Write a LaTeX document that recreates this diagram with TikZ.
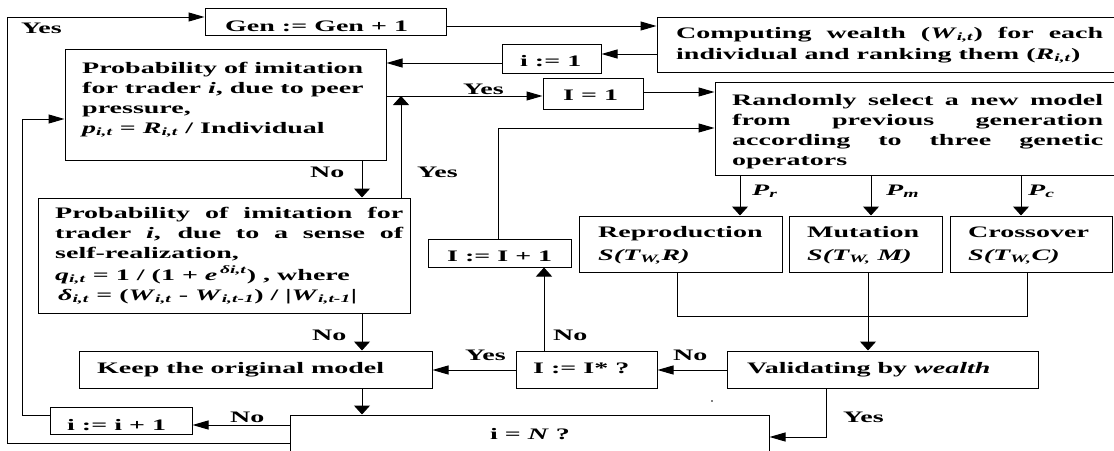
\documentclass[tikz,border=0pt]{standalone}
\usepackage{fontspec}
\setmainfont{Liberation Serif}[FakeStretch=1.75]
\usetikzlibrary{arrows.meta,fit}
\newcommand\sbi[1]{\textsubscript{\textit{#1}}}
\tikzset{
  box/.style={draw, line width=1pt, inner sep=0pt},
  txt/.style={inner sep=0pt, anchor=base west},
  conn/.style={line width=1pt},
  harr/.style={conn, -{Triangle[length=16pt,width=9pt]}},
  varr/.style={conn, -{Triangle[length=9pt,width=16pt]}},
}
\begin{document}
\begin{tikzpicture}[x=1pt,y=-1pt,font=\fontsize{16}{20}\selectfont\bfseries]
\useasboundingbox (0,0) rectangle (1114,450);
\clip (0,0) rectangle (1114,450);
% boxes
\node[box, fit={(205,8) (446,35)}] (gen) {};
\node[box, fit={(657,17) (1117,72)}] (comp) {};
\node[box, fit={(502,44) (601,73)}] (ione) {};
\node[box, fit={(65,49) (386,160)}] (prob1) {};
\node[box, fit={(543,78) (643,109)}] (Ieq) {};
\node[box, fit={(715,82) (1117,175)}] (rand) {};
\node[box, fit={(38,198) (410,313)}] (prob2) {};
\node[box, fit={(428,239) (571,267)}] (Iinc) {};
\node[box, fit={(579,216) (782,272)}] (repr) {};
\node[box, fit={(789,216) (942,272)}] (mut) {};
\node[box, fit={(950,216) (1112,272)}] (cross) {};
\node[box, fit={(79,351) (432,388)}] (keep) {};
\node[box, fit={(516,351) (657,388)}] (Istar) {};
\node[box, fit={(727,351) (1038,388)}] (valid) {};
\node[box, fit={(50,407) (192,434)}] (iinc) {};
\node[box, fit={(290,415) (769,472)}] (iN) {};
% texts
\node[txt] (gent) at (225,31) {Gen := Gen + 1};
\node[txt] (compt) at (676,38) {\parbox[t]{427pt}{\makebox[427pt][s]{Computing wealth (\textit{W}\sbi{i,t}) for each}\\[1pt]individual and ranking them (\textit{R}\sbi{i,t})}};
\node[txt] (ionet) at (520,66) {i := 1};
\node[txt] (prob1t) at (82,73) {\parbox[t]{300pt}{Probability of imitation\\for trader \textit{i}, due to peer\\pressure,\\\textit{p}\sbi{i,t} = \textit{R}\sbi{i,t} / Individual}};
\node[txt] (Ieqt) at (563,100) {I = 1};
\node[txt] (randt) at (732,105) {\parbox[t]{371pt}{\makebox[371pt][s]{Randomly select a new model}\\\makebox[371pt][s]{from previous generation}\\\makebox[371pt][s]{according to three genetic}\\operators}};
\node[txt] (prob2t) at (55,218) {\parbox[t]{348pt}{\makebox[348pt][s]{Probability of imitation for}\\\makebox[348pt][s]{trader \textit{i}, due to a sense of}\\self-realization,\\[2pt]\textit{q}\sbi{i,t} = 1 / (1 + \textit{e}\,\textsuperscript{\textit{δi,t}}) , where\\\hspace*{3pt}\textit{δ}\sbi{i,t} = (\textit{W}\sbi{i,t} - \textit{W}\sbi{i,t-1}) / |\textit{W}\sbi{i,t-1}|}};
\node[txt] (Iinct) at (447,261) {I := I + 1};
\node[txt] (reprt) at (598,237) {\parbox[t]{180pt}{Reproduction\\[3pt]\textit{S(T\textsubscript{W,}R)}}};
\node[txt] (mutt) at (807,237) {\parbox[t]{130pt}{Mutation\\[3pt]\textit{S(T\textsubscript{W,} M)}}};
\node[txt] (crosst) at (968,237) {\parbox[t]{140pt}{Crossover\\[3pt]\textit{S(T\textsubscript{W,}C)}}};
\node[txt] (keept) at (97,373) {Keep the original model};
\node[txt] (Istart) at (533,373) {I := I* ?};
\node[txt] (validt) at (747,373) {Validating by \textit{wealth}};
\node[txt] (iinct) at (67,430) {i := i + 1};
\node[txt] (iNt) at (490,439) {i = \textit{N} ?};
% labels
\node[txt] (yes0) at (21,33) {Yes};
\node[txt] (yes1) at (463,94) {Yes};
\node[txt] (no1) at (310,177) {No};
\node[txt] (yes2) at (417,177) {Yes};
\node[txt] (no2) at (312,340) {No};
\node[txt] (no3) at (553,340) {No};
\node[txt] (yes3) at (465,360) {Yes};
\node[txt] (no4) at (673,360) {No};
\node[txt] (no5) at (230,422) {No};
\node[txt] (yes4) at (843,422) {Yes};
\node[txt] (pr) at (752,195) {\textit{P}\sbi{r}};
\node[txt] (pm) at (886,195) {\textit{P}\sbi{m}};
\node[txt] (pc) at (1028,195) {\textit{P}\sbi{c}};
\coordinate (yesjoin) at (401,96);
% connectors
\draw[harr] (gen.east |- 0,26) -- (comp.west |- 0,26);
\draw[harr] (comp.west |- 0,54) -- (ione.east |- 0,54);
\draw[harr] (ione.west |- 0,63) -- (prob1.east |- 0,63);
\draw[harr] (prob1.east |- 0,96) -- (Ieq.west |- 0,96);
\draw[harr] (Ieq.east |- 0,92) -- (rand.west |- 0,92);
\draw[harr] (Iinc.north -| 498,0) -- (498,128) -- (rand.west |- 0,128);
\draw[varr] (prob1.south -| 362,0) -- (prob2.north -| 362,0);
\draw[varr] (prob2.north -| yesjoin) -- (yesjoin);
\draw[varr] (prob2.south -| 362,0) -- (keep.north -| 362,0);
\draw[varr] (keep.south -| 362,0) -- (iN.north -| 362,0);
\draw[harr] (iN.west |- 0,425) -- (iinc.east |- 0,425);
\draw[harr] (iinc.west |- 0,415) -- (22,415) -- (22,119) -- (prob1.west |- 0,119);
\draw[harr] (iN.west |- 0,443) -- (7.5,443) -- (7.5,17) -- (gen.west |- 0,17);
\draw[harr] (Istar.west |- 0,370) -- (keep.east |- 0,370);
\draw[harr] (valid.west |- 0,370) -- (Istar.east |- 0,370);
\draw[varr] (Istar.north -| 544,0) -- (Iinc.south -| 544,0);
\draw[harr] (valid.south -| 826,0) -- (826,437) -- (iN.east |- 0,437);
\draw[varr] (rand.south -| 740,0) -- (repr.north -| 740,0);
\draw[varr] (rand.south -| 871,0) -- (mut.north -| 871,0);
\draw[varr] (rand.south -| 1021,0) -- (cross.north -| 1021,0);
\draw[conn] (repr.south -| 677,0) -- (677,316) -- (1027,316) -- (cross.south -| 1027,0);
\draw[varr] (mut.south -| 868,0) -- (valid.north -| 868,0);
\fill (712,401) circle (0.8);
\end{tikzpicture}
\end{document}
